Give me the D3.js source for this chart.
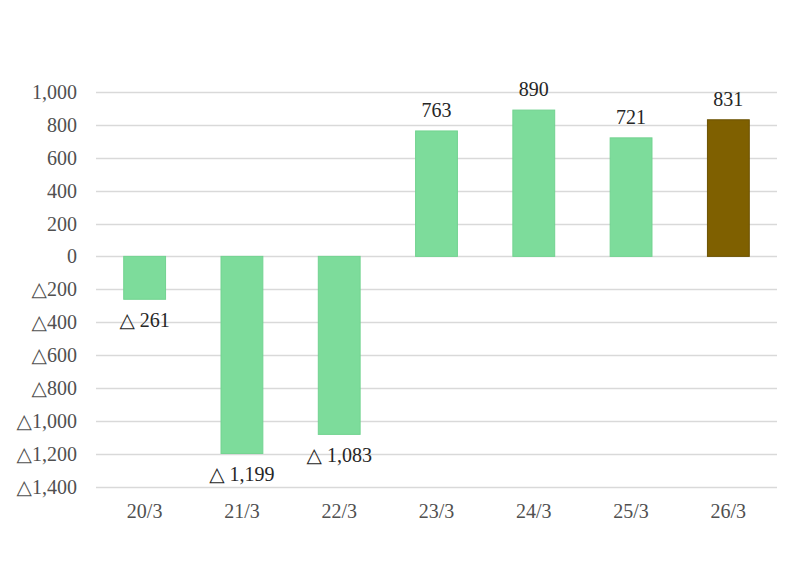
<!DOCTYPE html>
<html>
<head>
<meta charset="utf-8">
<script src="https://cdn.jsdelivr.net/npm/d3@7"></script>
<style>
  body { margin: 0; background: #fff; }
  text { font-family: "Liberation Serif", "DejaVu Serif", serif; }
</style>
</head>
<body>
<div id="chart"></div>
<script>
var width = 800;
var height = 567;

// data
var categories = ["20/3", "21/3", "22/3", "23/3", "24/3", "25/3", "26/3"];
var values = [-261, -1199, -1083, 763, 890, 721, 831];
var yTicks = [1000, 800, 600, 400, 200, 0, -200, -400, -600, -800, -1000, -1200, -1400];

var margin = {top: 92, right: 23, bottom: 80, left: 96};

var svg = d3.select("#chart")
    .append("svg")
    .attr("width", width)
    .attr("height", height);

var x = d3.scaleBand()
    .domain(categories)
    .range([margin.left, width - margin.right])
    .paddingInner(0.57)
    .paddingOuter(0.285);

var y = d3.scaleLinear()
    .domain([-1400, 1000])
    .range([height - margin.bottom - 0.5, margin.top]);

// number format with triangle for negatives
function fmt(d, space){
    var s = d3.format(",")(Math.abs(d));
    if (d < 0) return "\u25B3" + (space ? " " : "") + s;
    return s;
}

// gridlines
svg.append("g")
    .selectAll("line")
    .data(yTicks)
    .enter()
        .append("line")
        .attr("x1", margin.left)
        .attr("x2", width - margin.right)
        .attr("y1", function(d){ return Math.round(y(d)) + 0.5; })
        .attr("y2", function(d){ return Math.round(y(d)) + 0.5; })
        .attr("stroke", "#d9d9d9")
        .attr("stroke-width", 1.3);

// y axis labels
svg.append("g")
    .selectAll("text")
    .data(yTicks)
    .enter()
        .append("text")
        .attr("x", margin.left - 19)
        .attr("y", function(d){ return y(d); })
        .attr("dy", "0.35em")
        .attr("text-anchor", "end")
        .attr("font-size", 20)
        .attr("fill", "#505050")
        .text(function(d){ return fmt(d, false); });

// x axis labels
svg.append("g")
    .selectAll("text")
    .data(categories)
    .enter()
        .append("text")
        .attr("x", function(d){ return x(d) + x.bandwidth() / 2; })
        .attr("y", y(-1400) + 31)
        .attr("text-anchor", "middle")
        .attr("font-size", 20)
        .attr("fill", "#505050")
        .text(function(d){ return d; });

// bars
svg.append("g")
    .selectAll("rect")
    .data(values)
    .enter()
        .append("rect")
        .attr("x", function(d,i){ return x(categories[i]); })
        .attr("width", x.bandwidth())
        .attr("y", function(d){ return y(Math.max(0, d)); })
        .attr("height", function(d){ return Math.abs(y(d) - y(0)); })
        .attr("fill", function(d,i){ return i === values.length - 1 ? "#7f6000" : "#7ddc9b"; })
        .attr("stroke", function(d,i){ return i === values.length - 1 ? "#6b5100" : "#72d390"; })
        .attr("stroke-width", 1);

// data labels
svg.append("g")
    .selectAll("text")
    .data(values)
    .enter()
        .append("text")
        .attr("x", function(d,i){ return x(categories[i]) + x.bandwidth() / 2; })
        .attr("y", function(d){ return d < 0 ? y(d) + 21 : y(d) - 21; })
        .attr("dy", "0.35em")
        .attr("text-anchor", "middle")
        .attr("font-size", 20)
        .attr("fill", "#262626")
        .text(function(d){ return fmt(d, true); });
</script>
</body>
</html>
